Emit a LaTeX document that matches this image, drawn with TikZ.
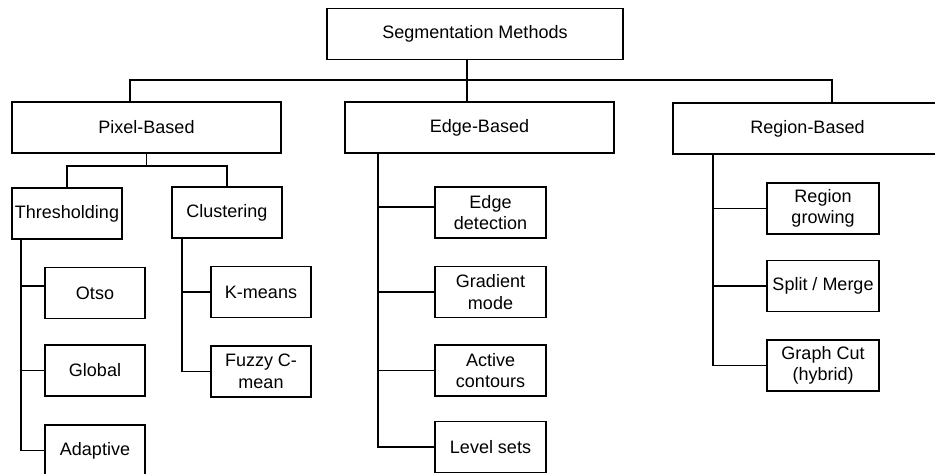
\documentclass[tikz,border=0pt]{standalone}
\usepackage{fontspec}
\setmainfont{Liberation Sans}
\begin{document}
\begin{tikzpicture}[x=0.5pt,y=-0.5pt,line width=0.9pt]

      \useasboundingbox (0,0) rectangle (935,474);

      \begin{scope}[every node/.style={draw, rectangle, align=center, inner sep=1pt,
          minimum height=25.5pt, font=\fontsize{9}{10.8}\selectfont}]
        % top and main groups
        \node[minimum width=148pt]   (seg) at (475,34)    {Segmentation Methods};
        \node[minimum width=134.5pt] (pix) at (146.5,127.5) {Pixel-Based};
        \node[minimum width=134.5pt] (edg) at (479.5,127.5) {Edge-Based};
        \node[minimum width=134.5pt] (reg) at (807.5,128.5) {Region-Based};
        % pixel based
        \node[minimum width=55pt] (thr) at (67,213.5)  {Thresholding};
        \node[minimum width=55pt] (clu) at (227,212.5) {Clustering};
        \node[minimum width=50pt] (oto) at (95,293)    {Otso};
        \node[minimum width=50pt] (glo) at (95,370.5)  {Global};
        \node[minimum width=50pt] (ada) at (95,450.5)  {Adaptive};
        \node[minimum width=50pt] (kme) at (261,292)   {K-means};
        \node[minimum width=50pt] (fuz) at (261,371.5) {Fuzzy C-\\mean};
        % edge based
        \node[minimum width=55.5pt] (det) at (490.5,212.5) {Edge\\detection};
        \node[minimum width=55.5pt] (gra) at (490.5,292)   {Gradient\\mode};
        \node[minimum width=55.5pt] (act) at (490.5,370.5) {Active\\contours};
        \node[minimum width=55.5pt] (lev) at (490.5,447)   {Level sets};
        % region based
        \node[minimum width=56pt] (gro) at (823,208.5) {Region\\growing};
        \node[minimum width=56pt] (spl) at (823,286)   {Split / Merge};
        \node[minimum width=56pt] (cut) at (823,365.5) {Graph Cut\\(hybrid)};
      \end{scope}

      \coordinate (j)  at (467,80);
      \coordinate (b1) at (130,80);
      \coordinate (b2) at (832,80);

      \draw ([xshift=-4pt]seg.south) -- (j);
      \draw (pix.north -| b1) -- (b1) -- (b2) -- (reg.north -| b2);
      \draw (j) -- (edg.north -| j);

      \draw (pix.south) -- ++(0,13);
      \draw (thr.north) -- ++(0,-21) -| (clu.north);

      \coordinate (t1) at ([xshift=5pt]thr.south west);
      \coordinate (t2) at ([xshift=5.5pt]clu.south west);
      \coordinate (t3) at ([xshift=17pt]edg.south west);
      \coordinate (t4) at ([xshift=20.5pt]reg.south west);

      \draw (t1) |- (ada.west);
      \draw ([yshift=3.5pt]oto.west) -- ([yshift=3.5pt]oto.west -| t1);
      \draw (glo.west) -- (glo.west -| t1);

      \draw (t2) |- (fuz.west);
      \draw (kme.west) -- (kme.west -| t2);

      \draw (t3) |- (lev.west);
      \draw ([yshift=2.75pt]det.west) -- ([yshift=2.75pt]det.west -| t3);
      \draw (gra.west) -- (gra.west -| t3);
      \draw (act.west) -- (act.west -| t3);

      \draw (t4) |- (cut.west);
      \draw (gro.west) -- (gro.west -| t4);
      \draw (spl.west) -- (spl.west -| t4);

    \end{tikzpicture}
\end{document}
